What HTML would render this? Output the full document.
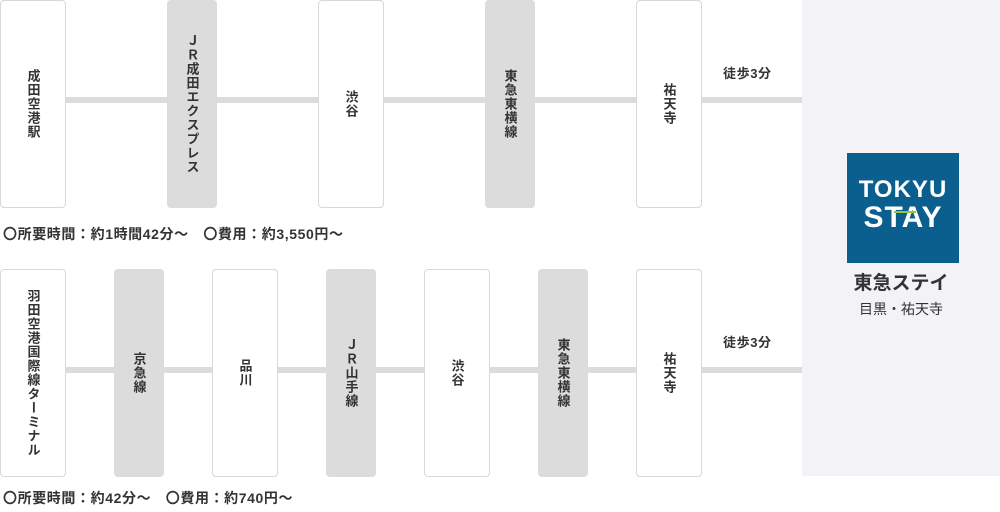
<!DOCTYPE html>
<html><head><meta charset="utf-8"><style>
*{margin:0;padding:0;box-sizing:border-box}
body{width:1000px;height:512px;background:#fff;position:relative;overflow:hidden;font-family:"Liberation Sans","Noto Sans CJK JP",sans-serif;color:#333}
.b{position:absolute;border-radius:4px;display:flex;align-items:center;justify-content:center}
.w{background:#fff;border:1px solid #d8d8d8;width:66px}
.g{background:#dcdcdc;width:50px}
.v{writing-mode:vertical-rl;font-size:13px;font-weight:bold;letter-spacing:1px;line-height:1}
.ln{position:absolute;height:6px;background:#dcdcdc}
.t{position:absolute;font-size:14px;font-weight:bold;white-space:nowrap;letter-spacing:0.6px}
</style></head><body>
<div style="position:absolute;left:802px;top:0;width:198px;height:476px;background:#f3f3f7"></div>
<div class="ln" style="left:60px;top:97px;width:742px"></div>
<div class="ln" style="left:60px;top:367px;width:742px"></div>
<div class="b w" style="left:0;top:0;height:208px"><span class="v">成田空港駅</span></div>
<div class="b g" style="left:167px;top:0;height:208px"><span class="v">ＪＲ成田エクスプレス</span></div>
<div class="b w" style="left:318px;top:0;height:208px"><span class="v">渋谷</span></div>
<div class="b g" style="left:485px;top:0;height:208px"><span class="v">東急東横線</span></div>
<div class="b w" style="left:636px;top:0;height:208px"><span class="v">祐天寺</span></div>
<div class="t" style="left:723px;top:63px;font-size:13px">徒歩3分</div>
<div class="t" style="left:3px;top:224px">〇所要時間：約1時間42分～　〇費用：約3,550円～</div>
<div class="b w" style="left:0;top:269px;height:208px"><span class="v">羽田空港国際線ターミナル</span></div>
<div class="b g" style="left:114px;top:269px;height:208px"><span class="v">京急線</span></div>
<div class="b w" style="left:212px;top:269px;height:208px"><span class="v">品川</span></div>
<div class="b g" style="left:326px;top:269px;height:208px"><span class="v">ＪＲ山手線</span></div>
<div class="b w" style="left:424px;top:269px;height:208px"><span class="v">渋谷</span></div>
<div class="b g" style="left:538px;top:269px;height:208px"><span class="v">東急東横線</span></div>
<div class="b w" style="left:636px;top:269px;height:208px"><span class="v">祐天寺</span></div>
<div class="t" style="left:723px;top:332px;font-size:13px">徒歩3分</div>
<div class="t" style="left:3px;top:488px">〇所要時間：約42分～　〇費用：約740円～</div>
<div style="position:absolute;left:847px;top:153px;width:112px;height:110px;background:#0a5f8f;color:#fff;font-weight:bold;text-align:center">
<div style="font-size:24px;margin-top:24px;line-height:26px;letter-spacing:1px">TOKYU</div>
<div style="font-size:30px;line-height:30px;letter-spacing:1px">STAY</div>
<div style="position:absolute;left:47px;top:58px;width:22px;height:2px;background:#9bc43c"></div>
</div>
<div style="position:absolute;left:802px;top:268px;width:198px;text-align:center;font-size:19px;font-weight:bold;color:#333">東急ステイ</div>
<div style="position:absolute;left:802px;top:299px;width:198px;text-align:center;font-size:14px;color:#333">目黒・祐天寺</div>
</body></html>
